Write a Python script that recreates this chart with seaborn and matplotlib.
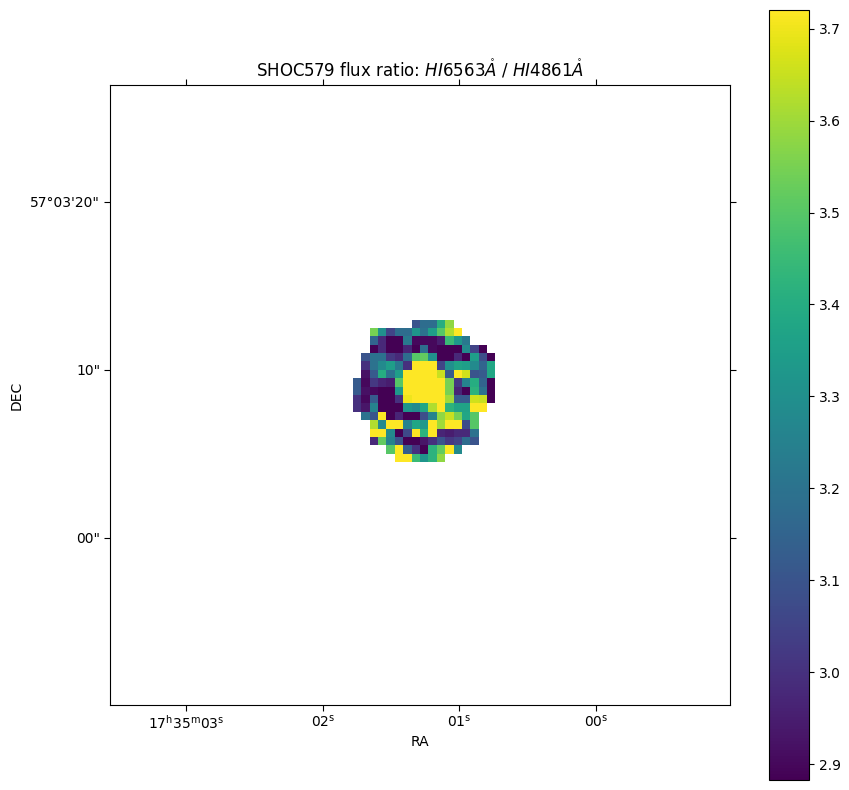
import numpy as np
import matplotlib
matplotlib.use("Agg")
import matplotlib.pyplot as plt
import seaborn as sns

GRID = 74
FIRST_ROW = 28
FIRST_COL = 29

row_starts = [7, 2, 2, 2, 1, 1, 1, 0, 0, 0, 0, 1, 2, 2, 2, 4, 5]
row_00 = [3.10, 3.18, 3.18, 3.40, 3.58]
row_01 = [3.55, 3.30, 3.05, 3.18, 3.18, 3.32, 3.20, 3.35, 3.50, 3.62, 3.72]
row_02 = [3.15, 2.98, 2.88, 2.88, 3.22, 2.90, 2.90, 2.90, 2.95, 3.45, 3.33, 3.22]
row_03 = [2.88, 2.98, 2.88, 2.88, 2.97, 2.88, 3.18, 2.90, 2.88, 2.88, 2.88, 3.28, 3.05, 2.88]
row_04 = [3.10, 3.20, 3.20, 3.02, 2.98, 3.18, 3.50, 3.52, 3.30, 2.88, 2.88, 2.98, 2.88, 3.35, 3.08, 2.88]
row_05 = [3.00, 3.20, 3.28, 3.35, 3.22, 3.00, 3.72, 3.72, 3.72, 3.05, 3.30, 3.37, 3.35, 3.28, 3.15, 3.38]
row_06 = [2.92, 3.12, 3.40, 3.20, 3.35, 3.72, 3.72, 3.72, 3.72, 3.65, 3.12, 3.72, 3.66, 3.10, 3.12, 3.38]
row_07 = [3.12, 2.90, 3.02, 2.97, 2.95, 3.50, 3.72, 3.72, 3.72, 3.72, 3.72, 3.55, 3.02, 3.25, 3.40, 3.15, 2.88]
row_08 = [3.12, 2.92, 2.90, 2.88, 2.88, 3.33, 3.72, 3.72, 3.72, 3.72, 3.72, 3.55, 2.97, 2.88, 3.42, 3.20, 2.88]
row_09 = [3.00, 2.90, 3.12, 2.88, 2.88, 3.00, 3.70, 3.72, 3.72, 3.72, 3.72, 3.60, 3.12, 3.12, 3.66, 3.65, 2.88]
row_10 = [3.00, 2.93, 3.25, 2.88, 2.88, 2.88, 3.32, 3.28, 3.38, 3.62, 3.72, 3.42, 3.37, 3.37, 3.72, 3.72]
row_11 = [3.20, 3.10, 3.72, 2.88, 2.97, 2.88, 2.88, 3.08, 3.25, 3.58, 3.65, 3.55, 3.38, 3.50]
row_12 = [3.62, 3.28, 3.72, 3.72, 3.25, 3.38, 3.33, 3.72, 3.60, 3.72, 3.72, 3.07, 3.50]
row_13 = [3.72, 3.72, 3.28, 2.88, 3.07, 3.72, 3.42, 3.72, 2.97, 2.95, 2.98, 2.98, 3.20]
row_14 = [2.98, 3.52, 3.25, 3.10, 2.88, 2.88, 2.93, 3.00, 3.10, 3.02, 3.05, 3.18, 3.10]
row_15 = [3.50, 3.72, 3.13, 3.00, 2.88, 3.42, 3.52, 3.72, 3.28]
row_16 = [3.72, 3.72, 3.45, 3.32, 3.42, 3.58]
rows = [row_00, row_01, row_02, row_03, row_04, row_05, row_06, row_07, row_08,
        row_09, row_10, row_11, row_12, row_13, row_14, row_15, row_16]

x_tick_labels = [r"17$^{\mathrm{h}}$35$^{\mathrm{m}}$03$^{\mathrm{s}}$",
                 r"02$^{\mathrm{s}}$", r"01$^{\mathrm{s}}$", r"00$^{\mathrm{s}}$"]
y_tick_labels = ["57°03'20\"", "10\"", "00\""]
x_tick_cells = [9.07, 25.43, 41.66, 58.0]
y_tick_cells = [13.96, 33.98, 54.03]

ratio = np.full((GRID, GRID), np.nan)
for i, (start, vals) in enumerate(zip(row_starts, rows)):
    ratio[FIRST_ROW + i, FIRST_COL + start:FIRST_COL + start + len(vals)] = vals

W, H = 849, 790
fig = plt.figure(figsize=(W / 100, H / 100), dpi=100)
ax = fig.add_axes([110 / W, 1 - 705 / H, 620 / W, 620 / H])
cax = fig.add_axes([769 / W, 1 - 780 / H, 40 / W, 770 / H])

sns.heatmap(ratio, ax=ax, cbar_ax=cax, cmap="viridis", vmin=2.8828, vmax=3.7203,
            square=False, xticklabels=False, yticklabels=False)

for s in ax.spines.values():
    s.set_visible(True)
    s.set_color("black")
    s.set_linewidth(0.8)

ax.set_xticks(x_tick_cells)
ax.set_xticklabels(x_tick_labels, rotation=0)
ax.set_yticks(y_tick_cells)
ax.set_yticklabels(y_tick_labels, rotation=0)
ax.tick_params(axis="both", direction="out", length=4, width=0.8,
               top=True, right=True, bottom=True, left=True, labelsize=10)
ax.tick_params(axis="x", pad=2)
ax.tick_params(axis="y", pad=3)
ax.set_xlabel("RA", fontsize=10, labelpad=2.5)
ax.set_ylabel("DEC", fontsize=10, labelpad=5)
ax.set_title(r"SHOC579 flux ratio: $HI6563\mathring{A}$ / $HI4861\mathring{A}$", fontsize=12)

cbar = ax.collections[0].colorbar
cbar.set_ticks([2.9, 3.0, 3.1, 3.2, 3.3, 3.4, 3.5, 3.6, 3.7])
cbar.ax.tick_params(labelsize=10, length=3.5, width=0.8)
cbar.outline.set_visible(True)
cbar.outline.set_edgecolor("black")
cbar.outline.set_linewidth(0.8)

fig.savefig("out.png", dpi=100)
